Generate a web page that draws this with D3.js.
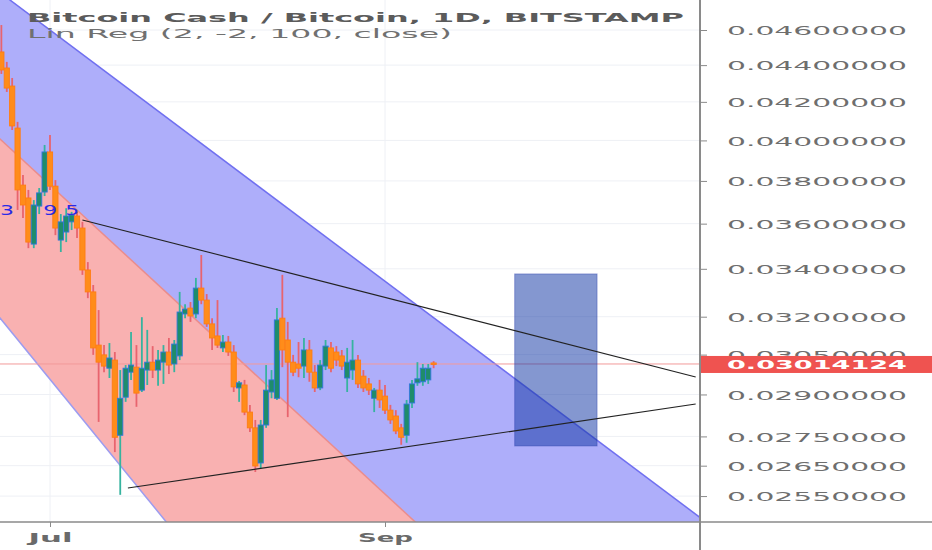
<!DOCTYPE html>
<html>
<head>
<meta charset="utf-8">
<script src="https://cdn.jsdelivr.net/npm/d3@7"></script>
<style>
  body { margin: 0; background: #fff; overflow: hidden; }
  text { font-family: "DejaVu Sans", sans-serif; }
</style>
</head>
<body>
<div id="chart"></div>
<script>
// daily candles, BCH/BTC, first bar 2019-06-22
const firstDay = "2019-06-22";
const opens = [.04474,.04384,.04285,.04063,.03780,.03719,.03508,.03681,.03747,.03942,
  .03775,.03526,.03562,.03608,.03635,.03580,.03395,.03302,.03087,.03049,
  .02998,.03029,.02754,.02890,.02983,.03002,.02916,.02991,.03021,.02991,
  .03021,.03060,.03014,.03045,.03211,.03235,.03211,.03318,.03268,.03171,
  .03123,.03076,.03099,.03060,.02924,.02935,.02836,.02780,.02659,.02790,
  .02909,.02886,.03194,.03107,.03021,.03014,.03006,.03068,.02983,.02924,
  .03006,.03076,.03060,.03045,.02961,.02991,.03029,.02968,.02939,.02886,
  .02916,.02894,.02843,.02822,.02780,.02754,.02869,.02943,.02947,.02954,.03018];
const highs = [.04629,.04418,.04329,.04095,.03829,.03757,.03709,.03766,.03977,.04027,
  .03804,.03644,.03671,.03654,.03654,.03608,.03429,.03331,.03227,.03087,
  .03095,.03060,.02991,.03010,.03139,.03087,.03198,.03147,.03083,.03068,
  .03087,.03115,.03107,.03302,.03251,.03260,.03361,.03460,.03293,.03194,
  .03268,.03127,.03123,.03087,.02950,.02954,.02862,.02808,.02808,.03010,
  .02991,.03235,.03374,.03179,.03049,.03099,.03115,.03107,.03010,.03029,
  .03107,.03099,.03083,.03068,.03076,.03107,.03049,.02991,.02961,.02924,
  .02954,.02935,.02862,.02843,.02794,.02880,.02954,.03021,.03014,.03014,.03025];
const lows = [.04351,.04253,.04053,.03663,.03626,.03490,.03490,.03644,.03728,.03757,
  .03548,.03473,.03517,.03571,.03535,.03374,.03276,.03049,.02801,.02983,
  .02961,.02696,.02554,.02873,.02954,.02855,.02909,.02935,.02961,.02932,
  .02939,.02976,.02983,.03029,.03194,.03179,.03194,.03251,.03159,.03068,
  .03076,.03060,.03045,.02909,.02873,.02825,.02765,.02629,.02642,.02780,
  .02886,.02880,.03002,.02818,.02968,.02964,.02961,.02947,.02909,.02916,
  .02991,.02983,.03006,.02991,.02909,.02954,.02924,.02909,.02898,.02836,
  .02851,.02829,.02794,.02758,.02721,.02728,.02851,.02932,.02932,.02939,.02998];
const closes = [.04373,.04274,.04074,.03757,.03686,.03517,.03686,.03743,.03942,.03775,
  .03580,.03608,.03635,.03640,.03580,.03395,.03302,.03076,.03021,.03006,
  .03037,.02747,.02886,.02998,.03010,.02905,.02998,.03021,.02991,.03029,
  .03060,.03010,.03091,.03219,.03231,.03203,.03318,.03268,.03171,.03115,
  .03087,.03099,.03060,.02928,.02943,.02836,.02780,.02649,.02790,.02916,
  .02954,.03187,.03068,.03021,.02983,.02998,.03068,.02983,.02924,.03010,
  .03083,.02998,.03029,.03006,.03021,.03029,.02939,.02924,.02916,.02916,
  .02880,.02843,.02808,.02769,.02747,.02865,.02939,.02958,.02998,.02998,.03014124];

const priceTicks = [0.046,0.044,0.042,0.040,0.038,0.036,0.034,0.032,0.0305,0.029,0.0275,0.0265,0.0255];
const timeTicks = ["2019-07-01","2019-09-01"];
const lastPrice = 0.03014124;

// Lin Reg (2, -2, 100, close) channel, start / end
const channelDates = ["2019-06-21","2019-10-30"];
const channelUpper = [0.04842, 0.02473];
const channelMid = [0.04026, 0.01762];
const channelLower = [0.03215, 0.01071];

// drawings
const trendHigh = [["2019-07-07", 0.03617], ["2019-10-28T12:00", 0.02965]];
const trendLow = [["2019-07-15T10:00", 0.02576], ["2019-10-28T12:00", 0.02865]];
const boxDates = ["2019-09-25", "2019-10-10T06:00"];
const boxPrices = [0.03378, 0.02717];
const markTexts = ["3", "9", "5"];
const markDates = ["2019-06-21T18:00", "2019-06-29T18:00", "2019-07-03T20:00"];
const markPrice = 0.03663;

const W = 932, H = 550;
const plotW = 700, plotH = 522;
const parse = s => new Date(s + (s.length === 10 ? "T00:00Z" : "Z"));

const days = d3.utcDay.range(parse(firstDay), d3.utcDay.offset(parse(firstDay), opens.length));
const candles = days.map((d, i) => ({date: d, o: opens[i], h: highs[i], l: lows[i], c: closes[i]}));

const x = d3.scaleUtc()
  .domain([parse("2019-07-01"), parse("2019-09-01")])
  .range([50, 385]);
const y = d3.scaleLog()
  .domain([0.046, 0.0255])
  .range([30, 30 + 790 * Math.log(0.046 / 0.0255)]);

const svg = d3.select("#chart").append("svg")
  .attr("width", W)
  .attr("height", H);

svg.append("defs").append("clipPath").attr("id", "plot")
  .append("rect").attr("x", 0).attr("y", 0).attr("width", plotW).attr("height", plotH);

const plot = svg.append("g").attr("clip-path", "url(#plot)");

// grid
plot.selectAll(".hgrid").data(priceTicks).enter().append("line")
  .attr("x1", 0).attr("x2", plotW)
  .attr("y1", d => y(d)).attr("y2", d => y(d))
  .style("stroke", "#eef0f5").style("stroke-width", 1);
plot.selectAll(".vgrid").data(timeTicks).enter().append("line")
  .attr("x1", d => x(parse(d))).attr("x2", d => x(parse(d)))
  .attr("y1", 0).attr("y2", plotH)
  .style("stroke", "#eef0f5").style("stroke-width", 1);

// regression channel
const chan = channelDates.map((d, i) => ({date: parse(d), up: channelUpper[i], mid: channelMid[i], lo: channelLower[i]}));
const band = (a, b) => d3.area().x(d => x(d.date)).y0(d => y(d[a])).y1(d => y(d[b]));
plot.append("path").datum(chan).attr("d", band("mid", "up")).style("fill", "#aeaefa");
plot.append("path").datum(chan).attr("d", band("lo", "mid")).style("fill", "#f9b1b1");
const edge = (k, col) => plot.append("path").datum(chan)
  .attr("d", d3.line().x(d => x(d.date)).y(d => y(d[k])))
  .style("fill", "none").style("stroke", col).style("stroke-width", 1.5);
edge("up", "#7070f0");
edge("mid", "#ea8c8c");
edge("lo", "#9c9cf0");

// last price line
plot.append("line")
  .attr("x1", 0).attr("x2", plotW)
  .attr("y1", y(lastPrice)).attr("y2", y(lastPrice))
  .style("stroke", "#f29a9a").style("stroke-width", 1);

// candles
const bw = 5.2;
const cg = plot.selectAll(".candle").data(candles).enter().append("g");
cg.append("line")
  .attr("x1", d => x(d.date)).attr("x2", d => x(d.date))
  .attr("y1", d => y(d.h)).attr("y2", d => y(d.l))
  .style("stroke", d => d.c >= d.o ? "#36b39f" : "#e8646e")
  .style("stroke-width", 1.8);
cg.append("rect")
  .attr("x", d => x(d.date) - bw / 2)
  .attr("width", bw)
  .attr("y", d => y(Math.max(d.o, d.c)))
  .attr("height", d => Math.max(1.5, Math.abs(y(d.o) - y(d.c))))
  .style("fill", d => d.c >= d.o ? "#1f8c6b" : "#ff8c1a")
  .style("stroke", d => d.c >= d.o ? "#3178dc" : "#ff7d12")
  .style("stroke-width", 0.9);

// blue marks
plot.selectAll(".mark").data(markTexts).enter().append("text")
  .attr("x", (d, i) => x(parse(markDates[i])))
  .attr("y", y(markPrice) + 5)
  .attr("textLength", 14)
  .attr("lengthAdjust", "spacingAndGlyphs")
  .style("font-size", "14px")
  .style("fill", "#2a2ae6")
  .text(d => d);

// box
plot.append("rect")
  .attr("x", x(parse(boxDates[0])))
  .attr("width", x(parse(boxDates[1])) - x(parse(boxDates[0])))
  .attr("y", y(boxPrices[0]))
  .attr("height", y(boxPrices[1]) - y(boxPrices[0]))
  .style("fill", "rgba(20,55,165,0.52)")
  .style("stroke", "rgba(40,60,170,0.4)");

// trend lines
[trendHigh, trendLow].forEach(t => {
  plot.append("line")
    .attr("x1", x(parse(t[0][0]))).attr("y1", y(t[0][1]))
    .attr("x2", x(parse(t[1][0]))).attr("y2", y(t[1][1]))
    .style("stroke", "#222").style("stroke-width", 1.1);
});

// legend text
svg.append("text")
  .attr("x", 27).attr("y", 22)
  .attr("textLength", 657).attr("lengthAdjust", "spacingAndGlyphs")
  .style("font-size", "13px").style("font-weight", "bold").style("fill", "#5b5b5b")
  .text("Bitcoin Cash / Bitcoin, 1D, BITSTAMP");
svg.append("text")
  .attr("x", 27).attr("y", 38)
  .attr("textLength", 425).attr("lengthAdjust", "spacingAndGlyphs")
  .style("font-size", "13px").style("fill", "#707070")
  .text("Lin Reg (2, -2, 100, close)");

// price axis
const yAxis = svg.append("g")
  .attr("transform", `translate(${plotW},0)`)
  .call(d3.axisRight(y).tickValues(priceTicks).tickFormat(d => d.toFixed(8)).tickSize(7).tickSizeOuter(0));
yAxis.select(".domain").remove();
yAxis.selectAll(".tick line").style("stroke", "#8a8a8a");
yAxis.selectAll(".tick text")
  .attr("x", 27).attr("dy", "0.36em")
  .attr("textLength", 180).attr("lengthAdjust", "spacingAndGlyphs")
  .style("font-size", "13px").style("fill", "#6e6e6e");

// last price tag
svg.append("rect")
  .attr("x", plotW).attr("width", W - plotW)
  .attr("y", y(lastPrice) - 8).attr("height", 17)
  .style("fill", "#ef5350");
svg.append("text")
  .attr("x", plotW + 27).attr("y", y(lastPrice) + 5)
  .attr("textLength", 180).attr("lengthAdjust", "spacingAndGlyphs")
  .style("font-size", "13px").style("font-weight", "bold").style("fill", "#fff")
  .text(lastPrice.toFixed(8));

// time axis
const xAxis = svg.append("g")
  .attr("transform", `translate(0,${plotH})`)
  .call(d3.axisBottom(x).tickValues(timeTicks.map(parse)).tickFormat(d3.utcFormat("%b")).tickSize(5).tickSizeOuter(0));
xAxis.select(".domain").remove();
xAxis.selectAll(".tick line").style("stroke", "#8a8a8a");
xAxis.selectAll(".tick text")
  .attr("y", 20).attr("dy", 0)
  .attr("textLength", (d, i) => i === 0 ? 44 : 55).attr("lengthAdjust", "spacingAndGlyphs")
  .style("font-size", "13px").style("font-weight", "bold").style("fill", "#6a6a6a");

// frame lines
svg.append("line")
  .attr("x1", 0).attr("x2", W).attr("y1", plotH).attr("y2", plotH)
  .style("stroke", "#8a8a8a").style("stroke-width", 1.5);
svg.append("line")
  .attr("x1", plotW).attr("x2", plotW).attr("y1", 0).attr("y2", H)
  .style("stroke", "#8a8a8a").style("stroke-width", 2);
</script>
</body>
</html>
